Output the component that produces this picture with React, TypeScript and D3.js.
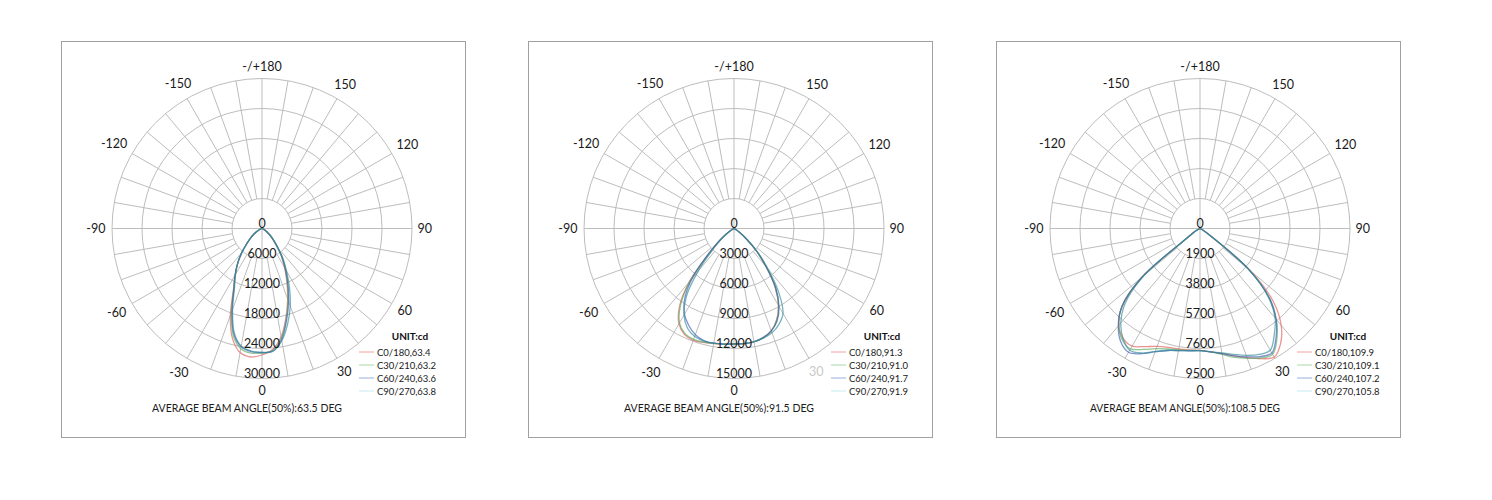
import React from 'react';
import * as d3 from 'd3';

// ---------- data ----------
const ANGLES = [-90, -85, -80, -75, -70, -65, -60, -55, -50, -45, -40, -35, -30, -25, -20, -15, -10, -5, 0, 5, 10, 15, 20, 25, 30, 35, 40, 45, 50, 55, 60, 65, 70, 75, 80, 85, 90];

const SERIES_COLORS = ['#e05a5a', '#5aab5a', '#3a5ab8', '#2f8a96'];
const LEGEND_COLORS = ['#f2a0a0', '#a8d8a8', '#98aee0', '#c4eaf0'];
const ANGLE_TICKS = [0, 30, 60, 90, 120, 150, 180, -150, -120, -90, -60, -30];
const ANGLE_TICK_LABELS = ['0', '30', '60', '90', '120', '150', '-/+180', '-150', '-120', '-90', '-60', '-30'];

// Panel 1
const P1_RINGS = [0, 6000, 12000, 18000, 24000, 30000];
const P1_NAMES = ['C0/180,63.4', 'C30/210,63.2', 'C60/240,63.6', 'C90/270,63.8'];
const P1_TITLE = 'AVERAGE BEAM ANGLE(50%):63.5 DEG';
const P1_C0 = [0, 0, 0, 0, 300, 700, 1200, 2000, 3000, 4300, 6200, 8400, 10600, 13500, 18500, 22800, 25200, 25800, 25300, 24300, 22000, 18500, 15000, 11800, 9000, 6800, 4600, 3100, 2000, 1200, 650, 300, 120, 0, 0, 0, 0];
const P1_C30 = [0, 0, 0, 0, 300, 700, 1200, 2000, 3000, 4300, 6300, 8500, 10800, 13400, 17800, 22200, 24400, 25000, 24900, 24500, 22300, 18700, 15200, 12000, 9300, 7000, 4700, 3200, 2100, 1300, 700, 350, 150, 0, 0, 0, 0];
const P1_C60 = [0, 0, 0, 0, 300, 700, 1200, 2000, 3000, 4300, 6300, 8500, 10800, 13300, 17500, 21800, 24000, 24700, 24800, 24600, 22600, 19000, 15600, 12300, 9400, 7000, 4700, 3200, 2100, 1300, 700, 350, 150, 0, 0, 0, 0];
const P1_C90 = [0, 0, 0, 0, 300, 700, 1200, 2000, 3000, 4300, 6300, 8500, 10600, 13000, 17200, 21500, 23900, 24600, 24800, 24700, 22800, 19800, 16500, 13000, 9800, 7300, 4900, 3300, 2100, 1300, 700, 350, 150, 0, 0, 0, 0];

// Panel 2
const P2_RINGS = [0, 3000, 6000, 9000, 12000, 15000];
const P2_NAMES = ['C0/180,91.3', 'C30/210,91.0', 'C60/240,91.7', 'C90/270,91.9'];
const P2_TITLE = 'AVERAGE BEAM ANGLE(50%):91.5 DEG';
const P2_C0 = [0, 0, 0, 0, 0, 100, 300, 800, 1900, 3600, 6900, 9500, 11000, 11700, 11900, 11800, 11700, 11600, 11550, 11550, 11500, 11300, 10900, 10100, 8900, 7200, 5000, 3200, 1600, 700, 250, 80, 0, 0, 0, 0, 0];
const P2_C30 = [0, 0, 0, 0, 0, 100, 300, 800, 1900, 3600, 6800, 9300, 10900, 11600, 11800, 11750, 11650, 11600, 11550, 11550, 11500, 11300, 10900, 10100, 8900, 7200, 5000, 3200, 1600, 700, 250, 80, 0, 0, 0, 0, 0];
const P2_C60 = [0, 0, 0, 0, 0, 100, 300, 800, 1900, 3600, 6500, 8600, 9900, 10700, 11300, 11600, 11650, 11600, 11550, 11550, 11500, 11300, 10900, 10200, 9000, 7300, 5000, 3200, 1600, 700, 250, 80, 0, 0, 0, 0, 0];
const P2_C90 = [0, 0, 0, 0, 0, 100, 300, 700, 1700, 3000, 5600, 8300, 10000, 11000, 11500, 11650, 11650, 11600, 11550, 11550, 11500, 11350, 11100, 10600, 9800, 7800, 5300, 3300, 1600, 700, 250, 80, 0, 0, 0, 0, 0];

// Panel 3
const P3_RINGS = [0, 1900, 3800, 5700, 7600, 9500];
const P3_NAMES = ['C0/180,109.9', 'C30/210,109.1', 'C60/240,107.2', 'C90/270,105.8'];
const P3_TITLE = 'AVERAGE BEAM ANGLE(50%):108.5 DEG';
const P3_C0 = [0, 0, 0, 0, 0, 0, 400, 700, 4800, 7000, 8000, 8500, 8600, 8250, 7950, 7800, 7750, 7720, 7720, 7850, 8050, 8350, 8700, 9100, 9400, 8900, 8000, 6600, 4200, 800, 200, 0, 0, 0, 0, 0, 0];
const P3_C30 = [0, 0, 0, 0, 0, 0, 400, 700, 4800, 7000, 8000, 8600, 8800, 8450, 8100, 7900, 7800, 7750, 7730, 7850, 8100, 8450, 8750, 9050, 9200, 8500, 7500, 6200, 4000, 800, 200, 0, 0, 0, 0, 0, 0];
const P3_C60 = [0, 0, 0, 0, 0, 0, 400, 700, 4800, 7000, 8050, 8750, 9050, 8750, 8300, 8000, 7850, 7780, 7740, 7850, 8050, 8350, 8650, 8950, 9100, 8400, 7500, 6200, 4000, 800, 200, 0, 0, 0, 0, 0, 0];
const P3_C90 = [0, 0, 0, 0, 0, 0, 400, 700, 4600, 6700, 7800, 8500, 8900, 8700, 8300, 8000, 7850, 7780, 7740, 7850, 8000, 8250, 8550, 8800, 8900, 8200, 7400, 6100, 4000, 800, 200, 0, 0, 0, 0, 0, 0];

// ---------- layout ----------
const W = 1492;
const H = 500;
const R = 150;
const CY = 228.5;
const FONT = 'Lato, "Open Sans", "DejaVu Sans", sans-serif';

type PanelProps = {
  boxX: number;
  cx: number;
  rings: number[];
  series: number[][];
  names: string[];
  title: string;
  fadedTick?: number;
};

function Panel({ boxX, cx, rings, series, names, title, fadedTick }: PanelProps) {
  const rScale = d3.scaleLinear().domain([0, rings[rings.length - 1]]).range([0, R]);
  const line = d3
    .lineRadial<[number, number]>()
    .angle((d) => Math.PI - (d[0] * Math.PI) / 180)
    .radius((d) => rScale(d[1]))
    .curve(d3.curveCatmullRom.alpha(0.5));

  const spokes = d3.range(0, 360, 10);
  const innerR = rScale(rings[1]);

  return (
    <g>
      <rect x={boxX + 0.5} y={41.5} width={404} height={396} fill="#fff" stroke="#a0a0a0" strokeWidth={1} />
      <g transform={`translate(${cx},${CY})`}>
        {rings.slice(1).map((v) => (
          <circle key={v} r={rScale(v)} fill="none" stroke="#bdbdbd" strokeWidth={1} />
        ))}
        {spokes.map((a) => {
          const rad = (a * Math.PI) / 180;
          const r0 = a % 90 === 0 ? 0 : innerR;
          return (
            <line
              key={a}
              x1={r0 * Math.sin(rad)}
              y1={r0 * Math.cos(rad)}
              x2={R * Math.sin(rad)}
              y2={R * Math.cos(rad)}
              stroke="#bdbdbd"
              strokeWidth={1}
            />
          );
        })}
        {series.map((vals, i) => (
          <path
            key={i}
            d={line(ANGLES.map((a, j) => [a, vals[j]] as [number, number])) || ''}
            fill="none"
            stroke={SERIES_COLORS[i]}
            strokeWidth={1.3}
            strokeOpacity={0.65}
          />
        ))}
        {rings.map((v) => (
          <text
            key={'rl' + v}
            x={0}
            y={rScale(v) - 1}
            textAnchor="middle"
            fontSize={12.5}
            fill="#1a1a1a"
            fontFamily={FONT}
          >
            {v}
          </text>
        ))}
        {ANGLE_TICKS.map((a, i) => {
          const rad = (a * Math.PI) / 180;
          const label = ANGLE_TICK_LABELS[i];
          const w = label.length * 6.8;
          const rr = R + 6 + Math.abs(Math.sin(rad)) * (w / 2) + Math.abs(Math.cos(rad)) * 6;
          return (
            <text
              key={'al' + a}
              x={rr * Math.sin(rad)}
              y={rr * Math.cos(rad)}
              textAnchor="middle"
              dominantBaseline="central"
              fontSize={12.5}
              fill={fadedTick === a ? '#c8c8c8' : '#1a1a1a'}
              fontFamily={FONT}
            >
              {label}
            </text>
          );
        })}
        <text
          x={-15}
          y={183.5}
          textAnchor="middle"
          fontSize={10.5}
          fill="#1a1a1a"
          fontFamily={FONT}
          textLength={190}
          lengthAdjust="spacingAndGlyphs"
        >
          {title}
        </text>
        <text x={148} y={111.5} textAnchor="middle" fontSize={10} fontWeight="bold" fill="#111" fontFamily={FONT}>
          UNIT:cd
        </text>
        {names.map((n, i) => (
          <g key={n} transform={`translate(97,${123.5 + i * 13})`}>
            <line x1={0} x2={15} y1={0} y2={0} stroke={LEGEND_COLORS[i]} strokeWidth={1} />
            <text x={18} y={0} dominantBaseline="central" fontSize={9.5} fill="#1a1a1a" fontFamily={FONT}>
              {n}
            </text>
          </g>
        ))}
      </g>
    </g>
  );
}

export default function App() {
  return (
    <svg width={W} height={H} style={{ position: 'absolute', left: 0, top: 0, background: '#fff' }}>
      <rect x={0} y={0} width={W} height={H} fill="#fff" />
      <Panel boxX={61} cx={262} rings={P1_RINGS} series={[P1_C0, P1_C30, P1_C60, P1_C90]} names={P1_NAMES} title={P1_TITLE} />
      <Panel boxX={528} cx={734} rings={P2_RINGS} series={[P2_C0, P2_C30, P2_C60, P2_C90]} names={P2_NAMES} title={P2_TITLE} fadedTick={30} />
      <Panel boxX={996} cx={1200} rings={P3_RINGS} series={[P3_C0, P3_C30, P3_C60, P3_C90]} names={P3_NAMES} title={P3_TITLE} />
    </svg>
  );
}
